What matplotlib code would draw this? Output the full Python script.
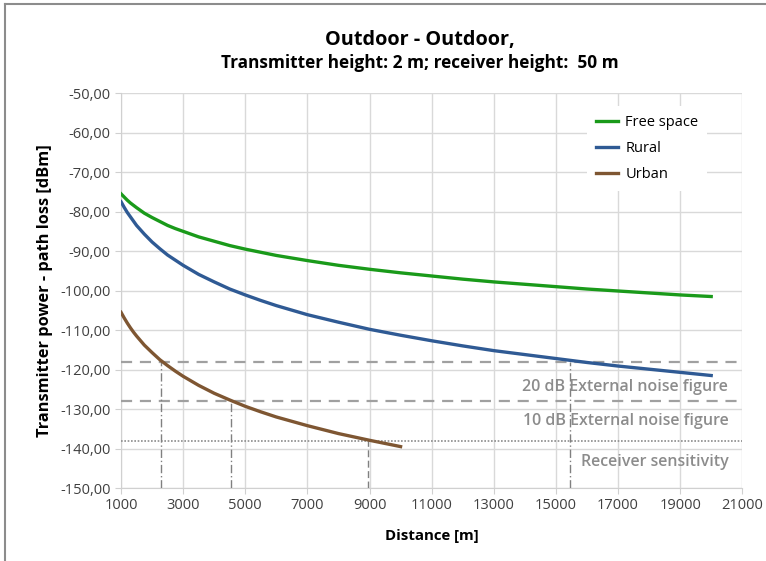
import matplotlib.pyplot as plt
from matplotlib.ticker import FuncFormatter
from matplotlib.lines import Line2D

plt.rcParams['font.family'] = ['Open Sans', 'DejaVu Sans']

# distances [m]
dist = [1000, 1100, 1200, 1300, 1400, 1500, 1750, 2000, 2250, 2500, 2750,
        3000, 3500, 4000, 4500, 5000, 5500, 6000, 7000, 8000, 9000, 10000,
        11000, 12000, 13000, 14000, 15000, 16000, 17000, 18000, 19000, 20000]
free_space = [-75.5, -76.3, -77.1, -77.8, -78.4, -79.0, -80.4, -81.5, -82.5,
              -83.5, -84.3, -85.0, -86.4, -87.5, -88.6, -89.5, -90.3, -91.1,
              -92.4, -93.6, -94.6, -95.5, -96.3, -97.1, -97.8, -98.4, -99.0,
              -99.6, -100.1, -100.6, -101.1, -101.5]
rural = [-77.5, -78.9, -80.2, -81.3, -82.4, -83.5, -85.7, -87.7, -89.4,
         -91.0, -92.3, -93.6, -95.9, -97.8, -99.6, -101.1, -102.5, -103.8,
         -106.1, -108.0, -109.8, -111.3, -112.7, -114.0, -115.2, -116.2,
         -117.2, -118.2, -119.1, -119.9, -120.7, -121.5]
urban_dist = [1000, 1100, 1200, 1300, 1400, 1500, 1750, 2000, 2250, 2500,
              2750, 3000, 3500, 4000, 4500, 5000, 5500, 6000, 7000, 8000,
              9000, 10000]
urban = [-105.5, -106.9, -108.2, -109.4, -110.5, -111.5, -113.8, -115.7,
         -117.5, -119.0, -120.4, -121.7, -124.0, -126.0, -127.7, -129.3,
         -130.7, -132.0, -134.2, -136.2, -137.9, -139.5]

# reference levels and where the curves cross them
levels = [-118, -128, -138]
level_names = ['20 dB External noise figure', '10 dB External noise figure',
               'Receiver sensitivity']
cross_x = [2300, 4550, 8950, 15450]
cross_y = [-118, -128, -138, -118]
cross_ls = [(0, (6, 2, 1, 2)), (0, (6, 2, 1, 2)), (0, (5, 2.5)), (0, (6, 2, 1, 2))]

fig = plt.figure(figsize=(7.66, 5.61), dpi=100)
ax = fig.add_axes([0.158, 0.130, 0.811, 0.704])

# frame around figure (left and top edges visible)
fig.add_artist(Line2D([0.007, 0.007], [0, 0.993], color='#8c8c8c', lw=1.5,
                      transform=fig.transFigure))
fig.add_artist(Line2D([0.007, 1.0], [0.993, 0.993], color='#8c8c8c', lw=1.5,
                      transform=fig.transFigure))

ax.plot(dist, free_space, color='#1a9a1a', lw=2.4, label='Free space', zorder=4)
ax.plot(dist, rural, color='#2f5a94', lw=2.4, label='Rural', zorder=4)
ax.plot(urban_dist, urban, color='#7e5632', lw=2.4, label='Urban', zorder=4)

for lv in levels[:2]:
    ax.axhline(lv, color='#a0a0a0', lw=1.6, ls=(0, (5, 3.5)), zorder=3)
ax.axhline(levels[2], color='#8c8c8c', lw=1.2, ls=(0, (1, 1)), zorder=3)

for cx, cy, ls in zip(cross_x, cross_y, cross_ls):
    ax.plot([cx, cx], [-150, cy], color='#808080', lw=1.0, ls=ls, zorder=3)

for lv, name, off in zip(levels, level_names, [6.3, 5.1, 5.3]):
    ax.text(20550, lv - off, name, ha='right', va='center', fontsize=11.5,
            color='#8c8c8c', fontweight='semibold', zorder=5)

ax.set_xlim(1000, 21000)
ax.set_ylim(-150, -50)
ax.set_xticks(range(1000, 21001, 2000))
ax.set_yticks(range(-150, -49, 10))
ax.yaxis.set_major_formatter(FuncFormatter(lambda v, p: f'{v:.2f}'.replace('.', ',')))
ax.grid(True, color='#d9d9d9', lw=1.0, zorder=0)
ax.set_axisbelow(True)
for s in ['top', 'right']:
    ax.spines[s].set_visible(False)
for s in ['left', 'bottom']:
    ax.spines[s].set_color('#d0d0d0')
ax.tick_params(colors='#d0d0d0', labelcolor='#404040', labelsize=10.5, length=4)

ax.set_xlabel('Distance [m]', fontsize=10.8, fontweight='bold', labelpad=11)
ax.set_ylabel('Transmitter power - path loss [dBm]', fontsize=11.8,
              fontweight='bold', labelpad=5)

fig.text(0.548, 0.928, 'Outdoor - Outdoor,', ha='center', va='center',
         fontsize=14.3, fontweight='bold')
fig.text(0.548, 0.888, 'Transmitter height: 2 m; receiver height:  50 m',
         ha='center', va='center', fontsize=12.4, fontweight='bold')

leg = ax.legend(loc='upper right', bbox_to_anchor=(0.955, 0.985), frameon=True,
                fontsize=10.5, handlelength=1.5, handletextpad=0.5,
                labelspacing=0.75, borderpad=0.6)
leg.get_frame().set_edgecolor('none')
leg.get_frame().set_facecolor('white')
leg.get_frame().set_alpha(1)

fig.savefig('out.png', dpi=100)
